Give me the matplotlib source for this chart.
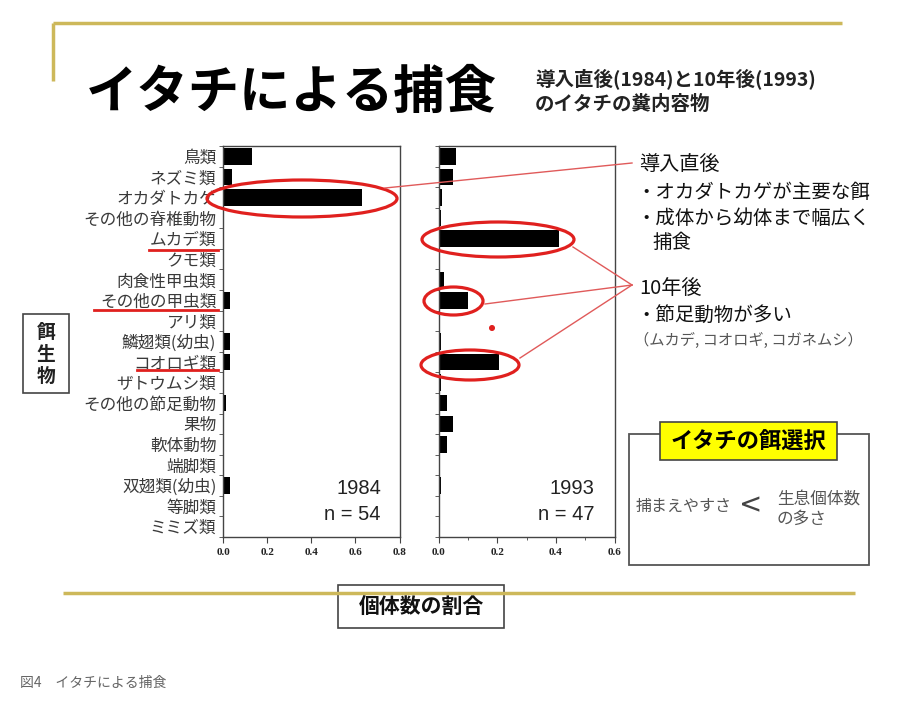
import matplotlib
matplotlib.use("Agg")
import matplotlib.pyplot as plt
from matplotlib.patches import Ellipse, Rectangle, Circle
import numpy as np

plt.rcParams['font.family'] = ['Noto Sans CJK JP', 'DejaVu Sans']

W, H = 897, 707

# prey categories (top to bottom)
categories = ["鳥類", "ネズミ類", "オカダトカゲ", "その他の脊椎動物", "ムカデ類", "クモ類",
              "肉食性甲虫類", "その他の甲虫類", "アリ類", "鱗翅類(幼虫)", "コオロギ類",
              "ザトウムシ類", "その他の節足動物", "果物", "軟体動物", "端脚類",
              "双翅類(幼虫)", "等脚類", "ミミズ類"]
# proportion of individuals
share_1984 = [0.13, 0.038, 0.63, 0.0, 0.0, 0.0, 0.0, 0.03, 0.0, 0.03, 0.03,
              0.0, 0.01, 0.005, 0.0, 0.0, 0.03, 0.0, 0.0]
share_1993 = [0.061, 0.051, 0.011, 0.009, 0.411, 0.0, 0.02, 0.10, 0.0, 0.01, 0.207,
              0.01, 0.03, 0.05, 0.03, 0.0, 0.01, 0.0, 0.0]
xticks_1984 = [0.0, 0.2, 0.4, 0.6, 0.8]
xticks_1993 = [0.0, 0.2, 0.4, 0.6]

fig = plt.figure(figsize=(W / 100, H / 100), dpi=100)
fig.patch.set_facecolor("white")


def px_axes(x0, y0, x1, y1):
    return fig.add_axes([x0 / W, 1 - y1 / H, (x1 - x0) / W, (y1 - y0) / H])


def setup_panel(ax, values, xmax, xticks, show_labels):
    n = len(values)
    y = np.arange(n)
    ax.barh(y, values, height=0.8, color="black")
    ax.set_xlim(0, xmax)
    ax.set_ylim(n - 0.5, -0.5)
    ax.set_xticks(xticks)
    ax.set_xticklabels([f"{t:.1f}" for t in xticks], family="Liberation Serif",
                       fontweight="bold", fontsize=8, color="#222222")
    ax.set_yticks(y)
    if show_labels:
        ax.set_yticklabels(categories, fontsize=12, color="#3a3a3a")
    else:
        ax.set_yticklabels([])
    ax.set_yticks(np.arange(n + 1) - 0.5, minor=True)
    ax.tick_params(axis="y", which="major", length=0, pad=5)
    ax.tick_params(axis="y", which="minor", length=3, direction="out", color="#444444")
    ax.tick_params(axis="x", which="major", length=4, direction="out", color="#444444", pad=4)
    for s in ax.spines.values():
        s.set_color("#444444")
        s.set_linewidth(1.0)


ax1 = px_axes(223.3, 146, 399.5, 537)
setup_panel(ax1, share_1984, 0.8, xticks_1984, True)

ax2 = px_axes(438.5, 146, 614.5, 537)
setup_panel(ax2, share_1993, 0.6, xticks_1993, False)
ax2.set_xticks([0.1, 0.3, 0.5], minor=True)
ax2.tick_params(axis="x", which="minor", length=2.5, direction="out", color="#444444")

# overlay in pixel coordinates
ov = fig.add_axes([0, 0, 1, 1], zorder=10)
ov.set_xlim(0, W)
ov.set_ylim(H, 0)
ov.axis("off")
ov.patch.set_alpha(0)

gold = "#cdb85a"
ov.plot([53, 842], [23, 23], color=gold, lw=2.5, solid_capstyle="butt")
ov.plot([53, 53], [23, 81], color=gold, lw=2.5, solid_capstyle="butt")
ov.plot([63, 855], [593, 593], color=gold, lw=2.5, solid_capstyle="butt")

# title
ov.text(86, 92, "イタチによる捕食", fontsize=37, fontweight="bold", va="center", ha="left",
        color="black")
ov.text(535, 79, "導入直後(1984)と10年後(1993)", fontsize=14, fontweight="bold",
        va="center", color="#222222")
ov.text(535, 104, "のイタチの糞内容物", fontsize=14, fontweight="bold",
        va="center", color="#222222")

# panel annotations
for x, yr, n in [(381, "1984", "n = 54"), (594, "1993", "n = 47")]:
    ov.text(x, 488, yr, fontsize=14.5, family="Liberation Sans", ha="right", va="center",
            color="#222222")
    ov.text(x, 514, n, fontsize=14.5, family="Liberation Sans", ha="right", va="center",
            color="#222222")

# red underlines
red = "#e0201e"
for x0, x1, yy in [(149, 218, 250), (94, 218, 310), (137, 218, 370)]:
    ov.plot([x0, x1], [yy, yy], color=red, lw=2)

# ellipses
for cx, cy, ew, eh in [(302, 198.5, 190, 37), (498, 239.5, 152, 35),
                       (453.5, 301, 59, 28), (470, 365, 98, 30)]:
    ov.add_patch(Ellipse((cx, cy), ew, eh, fill=False, edgecolor=red, lw=2.3))

# connector lines
thin = "#e05a5a"
ov.plot([385, 632], [188, 163], color=thin, lw=1)
for sx, sy in [(573, 247), (485, 304), (520, 358)]:
    ov.plot([sx, 632], [sy, 285], color=thin, lw=1)
ov.add_patch(Circle((492, 328), 2.3, color=red))

# right side notes
ov.text(639, 165, "導入直後", fontsize=14.5, va="center", color="#111111")
ov.text(636, 192, "・オカダトカゲが主要な餌", fontsize=14, va="center", color="#111111")
ov.text(636, 218, "・成体から幼体まで幅広く", fontsize=14, va="center", color="#111111")
ov.text(652, 243, "捕食", fontsize=14, va="center", color="#111111")
ov.text(639, 288, "10年後", fontsize=14.5, va="center", color="#111111")
ov.text(636, 315, "・節足動物が多い", fontsize=14, va="center", color="#111111")
ov.text(634, 340, "（ムカデ, コオロギ, コガネムシ）", fontsize=11, va="center", color="#555555")

# selection box
ov.add_patch(Rectangle((629, 434), 240, 131, fill=True, facecolor="white",
                       edgecolor="#555555", lw=1.3))
ov.add_patch(Rectangle((660, 422), 177, 38, facecolor="#ffff00", edgecolor="#444444", lw=1.2))
ov.text(748.5, 442, "イタチの餌選択", fontsize=16, fontweight="bold", ha="center",
        va="center", color="black")
ov.text(636, 506, "捕まえやすさ", fontsize=11.5, va="center", color="#555555")
ov.text(751, 505, "<", fontsize=20, ha="center", va="center", color="#444444",
        family="DejaVu Sans")
ov.text(777, 499, "生息個体数", fontsize=12, va="center", color="#555555")
ov.text(777, 519, "の多さ", fontsize=12, va="center", color="#555555")

# vertical label box
ov.add_patch(Rectangle((23, 314), 46, 79, fill=False, edgecolor="#444444", lw=1.2))
for ch, yy in zip("餌生物", [332, 354, 376]):
    ov.text(46, yy, ch, fontsize=13.5, fontweight="bold", ha="center", va="center",
            color="#222222")

# x axis label box
ov.add_patch(Rectangle((338, 585), 166, 43, facecolor="white", edgecolor="#444444", lw=1.2))
ov.text(421, 606, "個体数の割合", fontsize=15, fontweight="bold", ha="center", va="center",
        color="#111111")

# caption
ov.text(20, 683, "図4　イタチによる捕食", fontsize=10, va="center", color="#666666")

fig.savefig("out.png", dpi=100)
